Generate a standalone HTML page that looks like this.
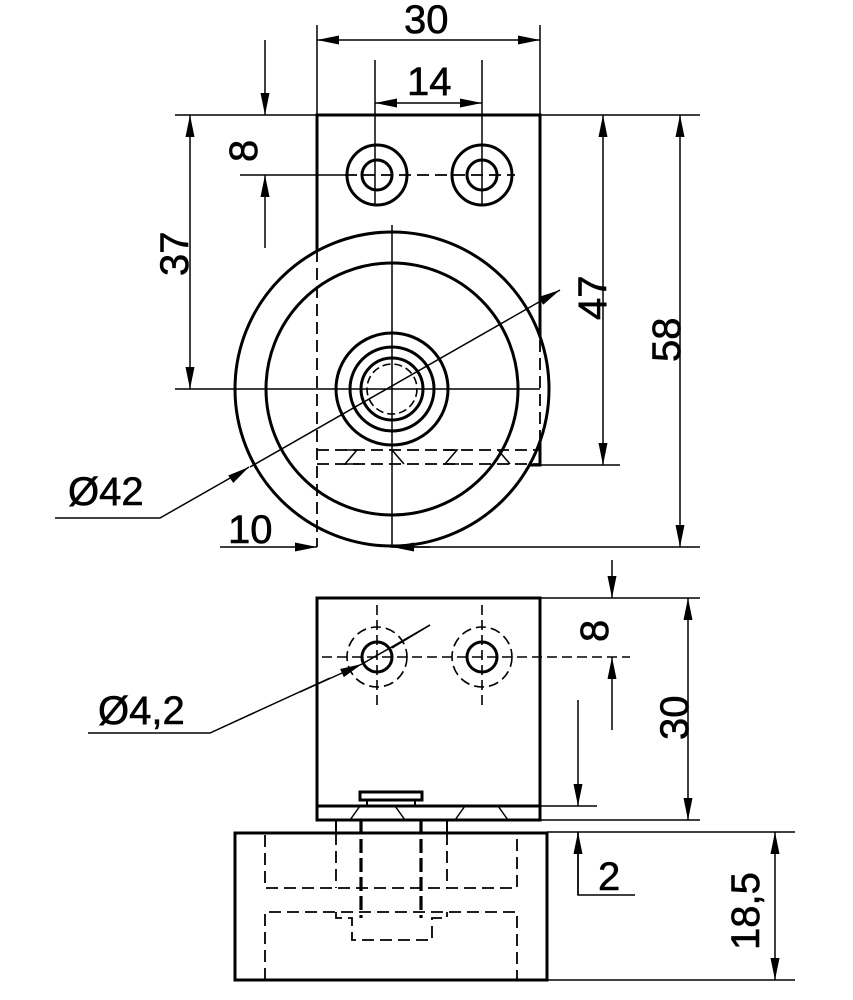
<!DOCTYPE html>
<html><head><style>body{margin:0;background:#fff}svg{display:block}text{font-family:"Liberation Sans",sans-serif;font-size:40px;fill:#000;stroke:#000;stroke-width:0.6}</style></head><body>
<svg width="853" height="1000" viewBox="0 0 853 1000" xmlns="http://www.w3.org/2000/svg">
<defs><marker id="a" viewBox="0 0 22 9" refX="22" refY="4.5" markerWidth="22" markerHeight="9" markerUnits="userSpaceOnUse" orient="auto-start-reverse"><path d="M0,0L22,4.5L0,9z" fill="#000"/></marker></defs>
<g stroke="#000" fill="none">
<rect x="317" y="115" width="223" height="350" stroke-width="3"/>
<circle cx="392" cy="389" r="157" stroke-width="3" fill="#fff"/>
<circle cx="392" cy="389" r="126" stroke-width="3"/>
<circle cx="392" cy="389" r="56" stroke-width="3"/>
<circle cx="392" cy="389" r="42" stroke-width="3"/>
<circle cx="392" cy="389" r="31" stroke-width="3"/>
<circle cx="392" cy="389" r="25" stroke-width="1.6" stroke-dasharray="8,4"/>
<circle cx="377" cy="175" r="30" stroke-width="3"/><circle cx="377" cy="175" r="15" stroke-width="3"/>
<circle cx="482" cy="175" r="30" stroke-width="3"/><circle cx="482" cy="175" r="15" stroke-width="3"/>
<g stroke-width="1.8" stroke-dasharray="12,6">
<line x1="317" y1="232" x2="317" y2="547"/><line x1="540" y1="232" x2="540" y2="465"/>
<line x1="317" y1="450" x2="540" y2="450"/><line x1="317" y1="464" x2="540" y2="464"/>
<line x1="345" y1="175" x2="515" y2="175"/>
</g>
<path d="M345,450l12,0l-12,14l14,0M392,450l12,14M445,450l12,0l-12,14l14,0M498,450l12,14" stroke-width="1.5"/>
<g stroke-width="1.5">
<line x1="392" y1="225" x2="392" y2="547"/><line x1="175" y1="389" x2="540" y2="389"/>
<line x1="317" y1="25" x2="317" y2="115"/><line x1="540" y1="25" x2="540" y2="115"/>
<line x1="375" y1="60" x2="375" y2="205"/><line x1="482" y1="60" x2="482" y2="205"/>
<line x1="175" y1="115" x2="700" y2="115"/><line x1="240" y1="175" x2="345" y2="175"/>
<line x1="540" y1="465" x2="620" y2="465"/><line x1="390" y1="547" x2="700" y2="547"/>
<line x1="317" y1="40" x2="540" y2="40" marker-start="url(#a)" marker-end="url(#a)"/>
<line x1="375" y1="103" x2="482" y2="103" marker-start="url(#a)" marker-end="url(#a)"/>
<line x1="265" y1="40" x2="265" y2="115" marker-end="url(#a)"/>
<line x1="265" y1="248" x2="265" y2="175" marker-end="url(#a)"/>
<line x1="190" y1="115" x2="190" y2="389" marker-start="url(#a)" marker-end="url(#a)"/>
<line x1="603" y1="115" x2="603" y2="465" marker-start="url(#a)" marker-end="url(#a)"/>
<line x1="680" y1="115" x2="680" y2="547" marker-start="url(#a)" marker-end="url(#a)"/>
<path d="M55,518L160,518L246,469"/>
<line x1="246" y1="469" x2="249" y2="467" marker-end="url(#a)"/>
<line x1="250" y1="467" x2="560" y2="290" marker-end="url(#a)"/>
<line x1="220" y1="547" x2="317" y2="547" marker-end="url(#a)"/>
<line x1="430" y1="547" x2="392" y2="547" marker-end="url(#a)"/>
</g>
<rect x="317" y="598" width="223" height="222" stroke-width="3"/>
<line x1="317" y1="806" x2="540" y2="806" stroke-width="3"/>
<rect x="360" y="792" width="62" height="8" stroke-width="3"/>
<path d="M367,800V806M415,800V806" stroke-width="2"/>
<path d="M350,820l10,-14M395,806l10,14M455,820l10,-14M498,806l10,14" stroke-width="1.5"/>
<circle cx="377" cy="657" r="15" stroke-width="3"/><circle cx="482" cy="657" r="15" stroke-width="3"/>
<g stroke-width="1.6" stroke-dasharray="10,5">
<circle cx="377" cy="657" r="30"/><circle cx="482" cy="657" r="30"/>
<line x1="377" y1="605" x2="377" y2="710"/><line x1="482" y1="605" x2="482" y2="710"/>
<line x1="322" y1="657" x2="630" y2="657"/>
</g>
<rect x="235" y="833" width="312" height="147" stroke-width="3"/>
<path d="M336,820V833M447,820V833" stroke-width="2"/>
<g stroke-width="1.8" stroke-dasharray="12,6">
<path d="M265,835V888H517V835"/>
<path d="M336,833V888M447,833V888"/>
<path d="M265,980V912H517V980"/>
<path d="M336,912V918H352V940H432V918H447V912"/>
</g>
<g stroke-width="3.2" stroke-dasharray="14,5"><path d="M361,820V918M421,820V918"/></g>
<g stroke-width="1.5">
<line x1="540" y1="806" x2="597" y2="806"/><line x1="540" y1="820" x2="700" y2="820"/>
<line x1="540" y1="598" x2="700" y2="598"/><line x1="547" y1="832" x2="795" y2="832"/>
<line x1="547" y1="980" x2="795" y2="980"/>
<line x1="612" y1="560" x2="612" y2="598" marker-end="url(#a)"/>
<line x1="612" y1="730" x2="612" y2="657" marker-end="url(#a)"/>
<line x1="688" y1="598" x2="688" y2="820" marker-start="url(#a)" marker-end="url(#a)"/>
<line x1="578" y1="700" x2="578" y2="806" marker-end="url(#a)"/>
<path d="M578,832V895H635"/>
<line x1="578" y1="895" x2="578" y2="832" marker-end="url(#a)"/>
<line x1="775" y1="832" x2="775" y2="980" marker-start="url(#a)" marker-end="url(#a)"/>
<path d="M88,733H210L330,678"/>
<line x1="300" y1="692" x2="362" y2="664" marker-end="url(#a)"/>
<line x1="362" y1="664" x2="430" y2="625"/>
<line x1="392" y1="648" x2="430" y2="625"/>
</g>
</g>
<text x="404" y="33">30</text>
<text x="407" y="95">14</text>
<text x="68" y="505">Ø42</text>
<text x="228" y="543">10</text>
<text x="98" y="724">Ø4,2</text>
<text x="598" y="890">2</text>
<text transform="translate(257,162) rotate(-90)">8</text>
<text transform="translate(188,276) rotate(-90)">37</text>
<text transform="translate(606,320) rotate(-90)">47</text>
<text transform="translate(680,362) rotate(-90)">58</text>
<text transform="translate(608,642) rotate(-90)">8</text>
<text transform="translate(688,740) rotate(-90)">30</text>
<text transform="translate(759,950) rotate(-90)">18,5</text>
</svg>
</body></html>
